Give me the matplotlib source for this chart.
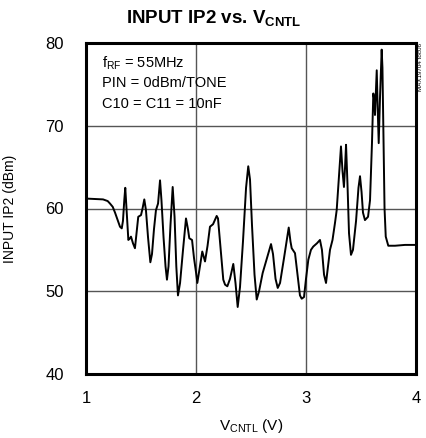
import matplotlib
matplotlib.use("Agg")
import matplotlib.pyplot as plt
from matplotlib import font_manager

# ── Font: narrow Helvetica-like if available ──────────────────
names = {f.name for f in font_manager.fontManager.ttflist}
NARROW = "Liberation Sans Narrow" if "Liberation Sans Narrow" in names else "Liberation Sans"
plt.rcParams["font.family"] = [NARROW, "DejaVu Sans"]
plt.rcParams["mathtext.fontset"] = "custom"
plt.rcParams["mathtext.rm"] = NARROW
plt.rcParams["mathtext.bf"] = NARROW + ":bold"

# ── Data ──────────────────────────────────────────────────────
vcntl = [1.000, 1.082, 1.155, 1.197, 1.218, 1.243, 1.264, 1.288, 1.309, 1.325,
         1.336, 1.348, 1.357, 1.366, 1.385, 1.400, 1.409, 1.427, 1.445, 1.459,
         1.475, 1.500, 1.514, 1.530, 1.545, 1.564, 1.585, 1.600, 1.618, 1.636,
         1.655, 1.673, 1.686, 1.705, 1.723, 1.736, 1.750, 1.768, 1.788, 1.805,
         1.821, 1.836, 1.855, 1.882, 1.909, 1.927, 1.939, 1.964, 1.982, 2.000,
         2.012, 2.036, 2.057, 2.082, 2.105, 2.127, 2.155, 2.188, 2.200, 2.218,
         2.248, 2.264, 2.285, 2.309, 2.339, 2.359, 2.379, 2.400, 2.427, 2.455,
         2.475, 2.491, 2.509, 2.532, 2.552, 2.573, 2.606, 2.645, 2.682, 2.700,
         2.723, 2.743, 2.764, 2.800, 2.843, 2.859, 2.870, 2.900, 2.923, 2.945,
         2.961, 2.982, 3.000, 3.021, 3.045, 3.066, 3.100, 3.127, 3.145, 3.164,
         3.182, 3.200, 3.218, 3.241, 3.264, 3.279, 3.295, 3.318, 3.332, 3.345,
         3.355, 3.364, 3.377, 3.391, 3.409, 3.427, 3.455, 3.477, 3.491, 3.505,
         3.518, 3.536, 3.564, 3.582, 3.600, 3.612, 3.621, 3.627, 3.643, 3.652,
         3.661, 3.673, 3.688, 3.695, 3.705, 3.714, 3.725, 3.748, 3.809, 3.900,
         4.000]
ip2 = [61.2, 61.15, 61.1, 60.9, 60.6, 60.2, 59.5, 58.6, 57.8, 57.6,
       58.5, 61.0, 62.5, 60.5, 56.2, 56.4, 56.6, 55.8, 55.2, 57.0,
       59.0, 59.2, 60.0, 61.1, 59.8, 56.5, 53.5, 54.5, 57.5, 59.8,
       60.6, 63.4, 61.0, 56.5, 53.0, 51.4, 53.0, 58.0, 62.6, 59.0,
       53.0, 49.5, 51.0, 55.0, 58.8, 57.5, 56.4, 56.2, 54.0, 52.3,
       51.0, 53.0, 54.8, 53.6, 55.5, 57.8, 58.1, 59.1, 58.8, 56.0,
       51.4, 50.8, 50.6, 51.5, 53.3, 51.0, 48.1, 50.5, 56.0, 62.5,
       65.1, 63.5, 58.0, 52.0, 49.0, 50.0, 52.2, 54.0, 55.7, 54.5,
       51.5, 50.4, 51.0, 54.0, 57.7, 56.0, 55.2, 54.6, 52.0, 49.5,
       49.1, 49.3, 51.5, 53.8, 55.0, 55.4, 55.8, 56.2, 55.0, 52.0,
       51.0, 53.0, 55.0, 56.2, 58.3, 59.8, 63.0, 67.5, 64.5, 62.6,
       65.0, 67.7, 63.0, 57.0, 54.4, 55.0, 58.5, 62.5, 63.9, 62.0,
       59.5, 58.6, 59.0, 61.0, 68.0, 73.9, 73.1, 71.3, 76.7, 72.0,
       67.9, 73.5, 79.2, 77.0, 68.0, 60.0, 56.6, 55.5, 55.5, 55.6,
       55.6]

x_ticks = [1, 2, 3, 4]
y_ticks = [40, 50, 60, 70, 80]
notes = ["f$_{\\rm RF}$ = 55MHz", "PIN = 0dBm/TONE", "C10 = C11 = 10nF"]

# ── Figure ────────────────────────────────────────────────────
fig = plt.figure(figsize=(4.27, 4.38), dpi=100)
ax = fig.add_axes([86 / 427, 64 / 438, 330 / 427, 331 / 438])

ax.plot(vcntl, ip2, color="black", linewidth=1.4, zorder=3,
        solid_joinstyle="round")

ax.set_xlim(1, 4)
ax.set_ylim(40, 80)
ax.set_xticks(x_ticks)
ax.set_yticks(y_ticks)
ax.tick_params(axis="y", length=0, labelsize=12, pad=16)
ax.tick_params(axis="x", length=0, labelsize=12, pad=12)
ax.grid(True, color="#555555", linewidth=1.0)
for s in ax.spines.values():
    s.set_linewidth(2.2)

ax.set_xlabel("V$_{\\rm CNTL}$ (V)", fontsize=11, labelpad=8)
ax.set_ylabel("INPUT IP2 (dBm)", fontsize=10, labelpad=20)

fig.text(0.5, 1 - 19 / 438, "INPUT IP2 vs. V$_{\\bf CNTL}$", ha="center",
         va="center", fontsize=13.5, fontweight="bold")

for i, line in enumerate(notes):
    ax.text(0.05, 0.94 - i * 0.062, line, transform=ax.transAxes,
            fontsize=10.5, va="center", ha="left")

fig.text(421 / 427, 1 - 67 / 438, "MAX19704 toc06", rotation=90,
         fontsize=4.5, ha="center", va="center")

fig.savefig("out.png", dpi=100, facecolor="white")
